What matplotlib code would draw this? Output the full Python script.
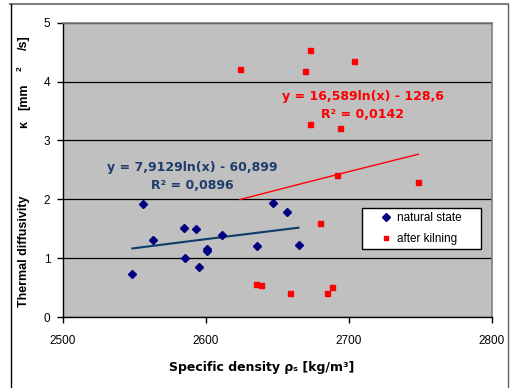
import numpy as np
import matplotlib.pyplot as plt
from matplotlib.lines import Line2D
from matplotlib.patches import Rectangle

plt.rcParams['font.family'] = ['Liberation Sans', 'DejaVu Sans']

# natural state samples (density, diffusivity)
nat_x = [2548.7, 2556.2, 2563.1, 2585.0, 2585.7, 2593.0, 2595.1, 2601.1, 2601.1,
         2611.6, 2635.9, 2646.9, 2656.9, 2664.8]
nat_y = [0.725, 1.913, 1.313, 1.505, 0.997, 1.494, 0.849, 1.149, 1.120,
         1.387, 1.205, 1.941, 1.788, 1.217]

# after kilning samples
kil_x = [2623.8, 2672.5, 2669.0, 2703.5, 2672.5, 2693.7, 2691.8, 2748.5, 2680.1,
         2635.0, 2638.7, 2659.0, 2684.8, 2688.1]
kil_y = [4.210, 4.528, 4.171, 4.346, 3.282, 3.209, 2.411, 2.292, 1.601,
         0.555, 0.538, 0.402, 0.402, 0.509]

# log trend line coefficients  y = a*ln(x) + b
nat_fit = (7.9129, -60.899)
kil_fit = (16.589, -128.6)

NAVY = '#000080'
LINE_BLUE = '#0f3c6a'
TEXT_BLUE = '#1e3c6c'
RED = '#ff0000'
WIDE = ['DejaVu Sans']

fig = plt.figure(figsize=(5.11, 3.88), dpi=100)
ax = fig.add_axes([62.7/511, 71/388, 429.3/511, 294.3/388])
ax.set_facecolor('#c0c0c0')

# trend lines over the data range
xs = np.linspace(min(nat_x), max(nat_x), 50)
ax.plot(xs, nat_fit[0]*np.log(xs) + nat_fit[1], color=LINE_BLUE, lw=1.5, zorder=3)
xs = np.linspace(min(kil_x), max(kil_x), 50)
ax.plot(xs, kil_fit[0]*np.log(xs) + kil_fit[1], color=RED, lw=1.0, zorder=3)

ax.plot(nat_x, nat_y, 'D', color=NAVY, ms=4, ls='none', label='natural state', zorder=4)
ax.plot(kil_x, kil_y, 's', color=RED, ms=3.6, ls='none', label='after kilning', zorder=4)

ax.set_xlim(2500, 2800)
ax.set_ylim(0, 5)
ax.set_xticks([2500, 2600, 2700, 2800])
ax.set_yticks([0, 1, 2, 3, 4, 5])
ax.grid(axis='y', color='black', lw=0.9)
ax.set_axisbelow(True)
ax.tick_params(axis='both', direction='out', length=4, width=1, labelsize=8.5, colors='black')
ax.tick_params(axis='x', pad=9)
ax.tick_params(axis='y', pad=5)
for s in ['top', 'right']:
    ax.spines[s].set_color('#808080')
    ax.spines[s].set_linewidth(1.2)
for s in ['left', 'bottom']:
    ax.spines[s].set_linewidth(1.0)

ax.text(2590.4, 2.547, 'y = 7,9129ln(x) - 60,899', color=TEXT_BLUE, fontsize=9,
        fontweight='bold', ha='center', va='center', family=WIDE)
ax.text(2590.4, 2.241, 'R² = 0,0896', color=TEXT_BLUE, fontsize=9,
        fontweight='bold', ha='center', va='center', family=WIDE)
ax.text(2709.8, 3.74, 'y = 16,589ln(x) - 128,6', color=RED, fontsize=9,
        fontweight='bold', ha='center', va='center', family=WIDE)
ax.text(2709.8, 3.44, 'R² = 0,0142', color=RED, fontsize=9,
        fontweight='bold', ha='center', va='center', family=WIDE)

# legend box
box = (0.698, 0.230, 0.276, 0.139)
ax.add_patch(Rectangle(box[:2], box[2], box[3], transform=ax.transAxes,
                       facecolor='white', edgecolor='black', lw=1.0, zorder=5))
leg = ax.legend(loc='center', bbox_to_anchor=box, borderaxespad=0, borderpad=0,
                fontsize=8.5, frameon=False, handlelength=0.8, handletextpad=0.5,
                labelspacing=0.75, markerscale=0.9)
leg.set_zorder(6)

fig.text(262/511, 1 - 368/388, 'Specific density ρₛ [kg/m³]', fontsize=9,
         fontweight='bold', ha='center', va='center', family=WIDE)

# y label pieces, spaced out as in the original
ylab_parts = [('Thermal diffusivity', 251.5, 24, 9), ('κ', 125, 24, 9),
              ('[mm', 97, 24, 9), ('2', 69, 20, 6), ('/s]', 43, 24, 9)]
for txt, yp, xp, fs in ylab_parts:
    fig.text(xp/511, 1 - yp/388, txt, fontsize=fs, fontweight='bold',
             ha='center', va='center', rotation=90)

# outer chart frame
fig.add_artist(Line2D([10/511, 508/511], [1 - 3.5/388]*2, color='#808080', lw=1.5))
fig.add_artist(Line2D([10.5/511]*2, [0, 1 - 3.5/388], color='black', lw=1.0))
fig.add_artist(Line2D([507.5/511]*2, [0, 1 - 3.5/388], color='#606060', lw=1.0))

fig.savefig('out.png', dpi=100)
